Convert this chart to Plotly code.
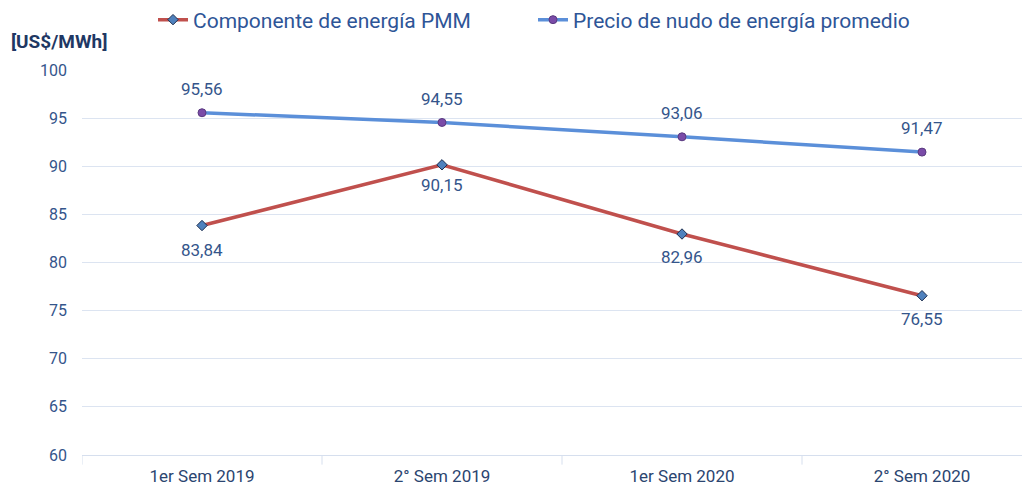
import plotly.graph_objects as go

categories = ["1er Sem 2019", "2° Sem 2019", "1er Sem 2020", "2° Sem 2020"]
pmm = [83.84, 90.15, 82.96, 76.55]
nudo = [95.56, 94.55, 93.06, 91.47]
y_ticks = [60, 65, 70, 75, 80, 85, 90, 95, 100]

# label offsets in pixels (style only)
pmm_shift = [-24, -20, -23, -23]
nudo_shift = [24, 23, 24, 24]

def fmt(v):
    return f"{v:.2f}".replace(".", ",")

FONT = "Roboto, Arial, sans-serif"
TXT = "#34558B"
xs = list(range(len(categories)))

# page body has an 8px offset; plot area spans screen x 82..1030, y 70..455
PL, PT, PW, PH = 82, 70, 948, 385
def px(x):
    return (x - PL) / PW
def py(y):
    return 1 + (PT - y) / PH

fig = go.Figure()
fig.add_trace(go.Scatter(
    x=xs, y=pmm, name="Componente de energía PMM",
    mode="lines+markers",
    line=dict(color="#C0504D", width=3.5),
    marker=dict(symbol="diamond", size=8, color="#4F81BD", line=dict(color="#1F2F4F", width=1)),
    legend="legend", showlegend=True,
))
fig.add_trace(go.Scatter(
    x=xs, y=nudo, name="Precio de nudo de energía promedio",
    mode="lines+markers",
    line=dict(color="#5B8FD9", width=3.5),
    marker=dict(symbol="circle", size=8, color="#7A4BA8", line=dict(color="#5A3A80", width=1)),
    legend="legend2", showlegend=True,
))

annotations = []
for x, v, s in zip(xs, pmm, pmm_shift):
    annotations.append(dict(x=x, y=v, xref="x", yref="y", text=fmt(v), showarrow=False,
                            yshift=s, font=dict(size=17, color=TXT, family=FONT)))
for x, v, s in zip(xs, nudo, nudo_shift):
    annotations.append(dict(x=x, y=v, xref="x", yref="y", text=fmt(v), showarrow=False,
                            yshift=s, font=dict(size=17, color=TXT, family=FONT)))
annotations.append(dict(text="<b>[US$/MWh]</b>", x=px(9), y=py(41),
                        xref="paper", yref="paper", showarrow=False,
                        font=dict(size=19, color="#1F3864", family=FONT),
                        xanchor="left", yanchor="middle"))

fig.update_layout(
    width=1022, height=480,
    margin=dict(l=PL - 8, r=0, t=PT - 8, b=488 - (PT + PH), autoexpand=False),
    showlegend=True,
    plot_bgcolor="white", paper_bgcolor="white",
    font=dict(family=FONT, color=TXT, size=16),
    legend=dict(x=px(153), y=py(20), xanchor="left", yanchor="middle",
                font=dict(size=21, color="#2E5597", family=FONT), bgcolor="rgba(0,0,0,0)",
                orientation="h"),
    legend2=dict(x=px(533), y=py(20), xanchor="left", yanchor="middle",
                 font=dict(size=21, color="#2E5597", family=FONT), bgcolor="rgba(0,0,0,0)",
                 orientation="h"),
    xaxis=dict(range=[-0.5, 3.45], tickmode="array", tickvals=xs,
               ticktext=categories, showgrid=False, zeroline=False,
               showline=True, linecolor="#D6DFEE", linewidth=1,
               tickfont=dict(size=17, color="#2B4570", family=FONT), ticks="",
               ticklabelstandoff=6),
    yaxis=dict(range=[60, 100], tickvals=y_ticks, showgrid=True, gridcolor="#DCE4F1",
               gridwidth=1, zeroline=False, tickfont=dict(size=16, color=TXT, family=FONT),
               ticks="", ticklabelstandoff=14),
    annotations=annotations,
)

# category boundary tick marks
for b in [-0.5, 0.5, 1.5, 2.5]:
    fig.add_shape(type="line", x0=b, x1=b, xref="x", y0=0, y1=-0.025, yref="paper",
                  line=dict(color="#D6DFEE", width=1))

fig.write_html("out.html")
